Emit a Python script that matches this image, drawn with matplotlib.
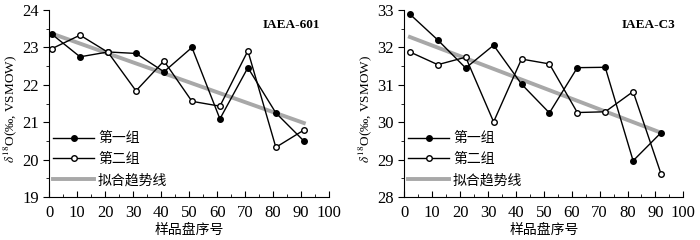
import matplotlib
matplotlib.use("Agg")
import matplotlib.pyplot as plt
import numpy as np
from matplotlib.ticker import MultipleLocator

plt.rcParams['font.family'] = ['Liberation Serif', 'Noto Sans CJK SC']
plt.rcParams['mathtext.fontset'] = 'stix'

x_left = [1, 11, 21, 31, 41, 51, 61, 71, 81, 91]
g1_left = [23.35, 22.75, 22.88, 22.84, 22.35, 23.0, 21.09, 22.46, 21.25, 20.5]
g2_left = [22.97, 23.33, 22.87, 21.84, 22.64, 21.56, 21.43, 22.91, 20.33, 20.79]
trend_left = [23.37, 20.98]

x_right = [2, 12, 22, 32, 42, 52, 62, 72, 82, 92]
g1_right = [32.89, 32.2, 31.45, 32.06, 31.02, 30.25, 31.46, 31.47, 28.97, 29.72]
g2_right = [31.88, 31.54, 31.74, 30.01, 31.69, 31.56, 30.26, 30.28, 30.82, 28.62]
trend_right = [32.28, 29.72]

labels = ['第一组', '第二组', '拟合趋势线']
xlabel = '样品盘序号'
ylabel = r'$\delta^{18}$O(‰, VSMOW)'

fig = plt.figure(figsize=(7, 2.4), dpi=100)
ax1 = fig.add_axes([0.0704, 0.179, 0.3996, 0.779])
ax2 = fig.add_axes([0.5776, 0.179, 0.3986, 0.779])

def draw(ax, x, g1, g2, trend, ylim, title):
    ax.plot(x, g1, '-o', color='black', lw=1, ms=4, mfc='black', mec='black', label=labels[0])
    ax.plot(x, g2, '-o', color='black', lw=1, ms=4, mfc='white', mec='black', mew=1, label=labels[1])
    ax.plot([x[0], x[-1]], trend, color='#a8a8a8', lw=2.8, label=labels[2], zorder=1.5)
    ax.set_xlim(0, 100)
    ax.set_ylim(*ylim)
    ax.xaxis.set_major_locator(MultipleLocator(10))
    ax.xaxis.set_minor_locator(MultipleLocator(5))
    ax.yaxis.set_major_locator(MultipleLocator(1))
    ax.yaxis.set_minor_locator(MultipleLocator(0.5))
    ax.spines['top'].set_visible(False)
    ax.spines['right'].set_visible(False)
    ax.tick_params(axis='x', which='major', direction='in', length=4, labelsize=12, pad=6)
    ax.tick_params(axis='x', which='minor', direction='in', length=2)
    ax.tick_params(axis='y', which='major', direction='out', length=4, labelsize=12)
    ax.tick_params(axis='y', which='minor', direction='out', length=2)
    ax.set_xlabel(xlabel, fontsize=10, family=['Noto Sans CJK SC'], labelpad=1)
    ax.set_ylabel(ylabel, fontsize=9.5, family=['Liberation Serif', 'Noto Sans CJK SC'],
                  va='center')
    ax.yaxis.set_label_coords(-0.14, 0.47)
    ax.text(0.97, 0.92, title, transform=ax.transAxes, ha='right', va='center',
            fontsize=9.5, fontweight='bold')
    ax.legend(loc='lower left', bbox_to_anchor=(0.0, 0.03), frameon=False,
              prop={'family': 'Noto Sans CJK SC', 'size': 10},
              handlelength=2.9, handletextpad=0.3, labelspacing=0.5, borderaxespad=0.2,
              borderpad=0.1)

draw(ax1, x_left, g1_left, g2_left, trend_left, (19, 24), 'IAEA-601')
draw(ax2, x_right, g1_right, g2_right, trend_right, (28, 33), 'IAEA-C3')

fig.savefig('out.png', dpi=100)
